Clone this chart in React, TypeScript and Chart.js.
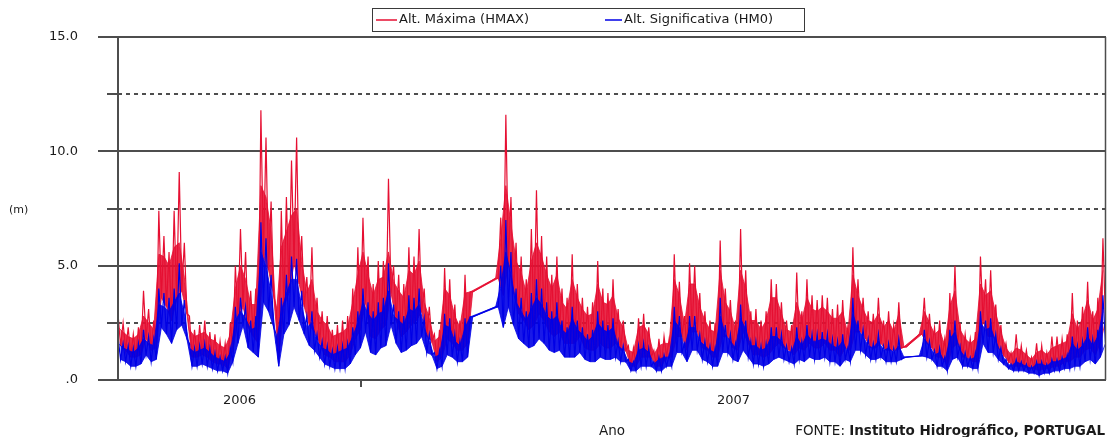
import React, { useEffect, useRef } from 'react';
import { Chart, registerables } from 'chart.js';

Chart.register(...registerables);

// Record: sampled every 2.5 days, day 0 = start of record (early Sept. 2006)
const STEP_DAYS = 2.5;
const RECORD_DAYS = 484;
const YEAR_BOUNDARIES = [0, 119, 484];
const YEAR_LABELS = ['2006', '2007'];
const Y_MAJOR = [0, 5, 10, 15];
const Y_MAJOR_LABELS = ['.0', '5.0', '10.0', '15.0'];
const Y_MINOR = [2.5, 7.5, 12.5];
const LEGEND_LABELS = ['Alt. Máxima (HMAX)', 'Alt. Significativa (HM0)'];

// Alt. Máxima (HMAX) per step (m): peak spikes, dense body top, lower swing
const hmaxHigh = [
  2.9, 2.5, 2.3, 2.0, 2.3, 3.9, 3.1, 2.6, 7.4, 6.3, 5.6, 7.4, 9.1, 6.0, 2.8, 2.2, 2.4, 2.6, 2.1, 2.0,
  1.7, 1.6, 2.5, 5.0, 6.6, 5.6, 3.9, 4.0, 11.8, 10.6, 7.8, 3.2, 7.4, 8.0, 9.6, 10.6, 6.3, 4.5, 5.8, 3.6,
  3.0, 2.8, 2.2, 2.4, 2.6, 2.8, 4.0, 5.8, 7.1,
  5.4, 4.2, 5.2, 5.2, 8.8, 5.0, 4.6, 4.2, 5.8, 5.4, 6.6, 4.0, 3.2, 2.0, 2.2, 4.9, 4.4, 3.3, 2.6, 4.6,
  3.85, null, null, null, null, 4.45, 7.1, 11.6, 8.0, 6.0, 5.4, 4.4, 6.6, 8.3, 6.3, 5.4, 4.6, 5.4, 4.0, 3.6,
  5.5, 4.2, 3.6, 3.2, 3.4, 5.2, 4.0, 3.8, 4.4,
  3.1, 2.6, 1.5, 1.4, 2.7, 2.9, 2.3, 1.3, 1.8, 1.9, 1.8, 5.5, 4.3, 2.8, 5.1, 5.0, 3.8, 3.0, 2.6, 2.5,
  6.1, 4.0, 3.5, 2.6, 6.6, 4.8, 3.0, 3.1, 2.6, 3.0, 4.4, 4.2, 3.4, 2.6, 2.4, 4.7, 3.0, 4.4, 3.7, 3.5,
  3.7, 3.6, 3.1, 3.3, 3.5, 2.3, 5.8, 4.4, 3.6,
  3.0, 2.9, 3.6, 2.6, 3.0, 2.4, 3.4, 1.45, null, null, 2.0, 3.6, 2.9, 2.3, 2.6, 1.8, 3.8, 5.0, 2.5, 2.0,
  1.8, 2.1, 5.4, 4.4, 4.8, 3.3, 2.4, 1.6, 1.2, 2.0, 1.5, 1.3, 1.0, 1.6, 1.5, 1.2, 1.9, 1.9, 1.8, 2.0,
  3.8, 2.6, 3.2, 4.3, 3.0, 3.6, 6.2,
];
const hmaxBody = [
  2.3, 2.1, 1.9, 1.8, 2.0, 2.8, 2.5, 2.2, 5.5, 5.4, 5.0, 5.8, 6.0, 4.5, 2.2, 1.9, 2.0, 2.1, 1.8, 1.7,
  1.5, 1.4, 2.0, 4.0, 5.0, 4.4, 3.3, 3.3, 8.5, 8.0, 6.5, 2.7, 5.8, 6.5, 7.2, 7.5, 5.2, 3.8, 4.4, 3.0,
  2.6, 2.4, 1.9, 2.0, 2.1, 2.3, 3.4, 4.6, 5.6,
  4.6, 3.7, 4.4, 4.5, 5.6, 4.3, 3.9, 3.6, 4.8, 4.6, 5.2, 3.4, 2.7, 1.7, 1.9, 4.0, 3.7, 2.8, 2.3, 3.8,
  3.85, null, null, null, null, 4.45, 6.2, 8.5, 6.8, 5.2, 4.7, 3.8, 5.2, 6.0, 5.4, 4.6, 4.0, 4.6, 3.4, 3.1,
  4.4, 3.6, 3.1, 2.8, 2.9, 4.2, 3.4, 3.3, 3.7,
  2.7, 2.3, 1.3, 1.2, 2.3, 2.4, 2.0, 1.1, 1.5, 1.6, 1.6, 4.4, 3.7, 2.4, 4.2, 4.2, 3.2, 2.6, 2.2, 2.1,
  4.8, 3.4, 3.0, 2.2, 4.8, 4.0, 2.6, 2.6, 2.2, 2.6, 3.6, 3.6, 2.9, 2.2, 2.1, 3.4, 2.6, 3.6, 3.1, 3.0,
  3.2, 3.0, 2.7, 2.7, 3.0, 2.0, 4.6, 3.7, 3.1,
  2.6, 2.5, 2.9, 2.3, 2.6, 2.1, 2.9, 1.45, null, null, 2.0, 3.0, 2.5, 2.0, 2.2, 1.5, 3.2, 3.9, 2.2, 1.8,
  1.6, 1.8, 4.2, 3.7, 3.9, 2.9, 2.1, 1.4, 1.1, 1.4, 1.3, 1.1, 0.9, 1.2, 1.3, 1.1, 1.4, 1.5, 1.6, 1.7,
  2.9, 2.2, 2.7, 3.5, 2.6, 3.1, 4.8,
];
const hmaxLow = [
  1.5, 1.3, 1.0, 1.0, 1.1, 1.8, 1.3, 1.4, 3.6, 3.2, 2.6, 3.5, 3.9, 2.9, 1.0, 1.0, 1.1, 1.0, 0.8, 0.7,
  0.7, 0.5, 1.3, 2.6, 3.2, 2.3, 1.9, 1.6, 5.4, 4.8, 3.7, 1.0, 3.2, 3.8, 5.1, 4.2, 3.2, 2.4, 2.1, 1.6,
  1.1, 1.0, 0.8, 0.8, 0.8, 1.1, 1.8, 2.2, 3.4,
  1.9, 1.8, 2.2, 2.4, 3.8, 2.6, 1.9, 2.1, 2.4, 2.6, 3.0, 1.9, 1.7, 0.8, 1.0, 1.8, 1.6, 1.3, 1.3, 1.6,
  3.85, null, null, null, null, 4.45, 3.7, 5.1, 3.8, 2.9, 2.6, 2.2, 2.4, 2.9, 2.6, 2.1, 1.9, 2.1, 1.6, 1.6,
  1.6, 1.9, 1.4, 1.3, 1.3, 1.6, 1.4, 1.4, 1.6,
  1.3, 1.3, 0.6, 0.6, 1.0, 1.0, 1.0, 0.6, 0.6, 1.0, 1.0, 1.9, 1.9, 1.3, 2.1, 2.1, 1.4, 1.3, 1.0, 1.0,
  1.9, 1.9, 1.4, 1.3, 2.1, 1.6, 1.1, 1.1, 1.0, 1.1, 1.4, 1.6, 1.4, 1.3, 1.1, 1.4, 1.3, 1.6, 1.4, 1.4,
  1.6, 1.3, 1.3, 1.0, 1.4, 1.3, 2.1, 2.1, 1.8,
  1.4, 1.4, 1.6, 1.3, 1.3, 1.3, 1.4, 1.45, null, null, 2.0, 1.6, 1.4, 1.0, 1.0, 0.6, 1.4, 1.6, 1.0, 1.0,
  0.8, 0.8, 2.6, 1.9, 1.9, 1.4, 1.1, 0.8, 0.6, 0.6, 0.6, 0.5, 0.5, 0.4, 0.5, 0.5, 0.6, 0.6, 0.8, 0.8,
  1.0, 1.0, 1.3, 1.4, 1.1, 1.6, 2.6,
];

// Alt. Significativa (HM0) per step (m): peak spikes, dense body top, lower swing
const hm0High = [
  1.9, 1.6, 1.5, 1.4, 1.6, 2.2, 1.9, 1.8, 4.0, 3.8, 3.6, 4.0, 5.1, 3.5, 1.6, 1.4, 1.5, 1.6, 1.4, 1.2,
  1.0, 1.0, 1.4, 3.2, 3.6, 3.2, 2.6, 2.8, 6.9, 6.2, 4.6, 2.0, 3.6, 4.6, 5.4, 5.3, 3.9, 2.8, 3.0, 2.0,
  1.7, 1.5, 1.3, 1.4, 1.5, 1.6, 2.3, 3.0, 4.0,
  3.4, 3.0, 3.4, 3.6, 5.1, 3.3, 3.0, 2.8, 3.7, 3.6, 4.0, 2.7, 2.0, 1.2, 1.3, 2.9, 2.7, 2.0, 1.7, 2.7,
  2.76, null, null, null, null, 3.2, 5.0, 7.0, 5.6, 4.0, 3.6, 3.0, 3.8, 4.4, 4.0, 3.4, 3.0, 3.4, 2.6, 2.3,
  3.2, 2.6, 2.3, 2.0, 2.2, 3.0, 2.6, 2.4, 2.7,
  1.7, 1.5, 0.9, 0.8, 1.5, 1.6, 1.4, 0.8, 1.0, 1.1, 1.1, 3.2, 2.8, 1.6, 2.8, 2.8, 2.0, 1.7, 1.5, 1.4,
  3.6, 2.4, 2.0, 1.6, 3.3, 2.6, 1.7, 1.7, 1.5, 1.6, 2.3, 2.3, 2.0, 1.5, 1.4, 2.3, 1.7, 2.4, 2.0, 2.0,
  2.1, 2.0, 1.8, 1.7, 2.0, 1.4, 3.6, 2.6, 2.2,
  1.8, 1.6, 2.0, 1.5, 1.6, 1.4, 1.8, 1.0, null, null, 1.05, 2.2, 1.7, 1.3, 1.4, 1.0, 2.2, 2.6, 1.5, 1.2,
  1.0, 1.2, 3.0, 2.6, 2.7, 2.0, 1.4, 0.9, 0.7, 0.9, 0.8, 0.7, 0.6, 0.8, 0.8, 0.7, 0.9, 0.9, 1.0, 1.1,
  1.9, 1.5, 1.7, 2.3, 1.8, 2.2, 3.7,
];
const hm0Body = [
  1.6, 1.4, 1.3, 1.2, 1.4, 1.8, 1.6, 1.5, 3.3, 3.2, 3.0, 3.4, 3.8, 2.9, 1.4, 1.2, 1.3, 1.4, 1.2, 1.0,
  0.9, 0.8, 1.2, 2.6, 3.0, 2.7, 2.2, 2.3, 5.6, 5.0, 3.8, 1.6, 3.0, 3.8, 4.4, 4.4, 3.2, 2.3, 2.5, 1.7,
  1.4, 1.3, 1.1, 1.2, 1.3, 1.4, 1.9, 2.5, 3.4,
  2.9, 2.6, 2.9, 3.0, 3.9, 2.8, 2.6, 2.4, 3.1, 3.0, 3.3, 2.3, 1.7, 1.0, 1.1, 2.4, 2.3, 1.7, 1.5, 2.3,
  2.76, null, null, null, null, 3.2, 4.1, 5.6, 4.6, 3.4, 3.0, 2.6, 3.1, 3.6, 3.3, 2.8, 2.6, 2.8, 2.2, 2.0,
  2.7, 2.2, 2.0, 1.7, 1.9, 2.5, 2.2, 2.1, 2.3,
  1.5, 1.3, 0.8, 0.7, 1.3, 1.4, 1.2, 0.7, 0.9, 1.0, 1.0, 2.6, 2.3, 1.4, 2.3, 2.3, 1.7, 1.5, 1.3, 1.2,
  2.8, 2.0, 1.7, 1.4, 2.7, 2.2, 1.5, 1.5, 1.3, 1.4, 1.9, 1.9, 1.7, 1.3, 1.2, 1.9, 1.5, 2.0, 1.7, 1.7,
  1.8, 1.7, 1.5, 1.4, 1.7, 1.2, 2.9, 2.2, 1.9,
  1.5, 1.4, 1.7, 1.3, 1.4, 1.2, 1.5, 1.0, null, null, 1.05, 1.8, 1.5, 1.1, 1.2, 0.8, 1.8, 2.1, 1.3, 1.0,
  0.9, 1.0, 2.5, 2.2, 2.3, 1.7, 1.2, 0.8, 0.6, 0.8, 0.7, 0.6, 0.5, 0.7, 0.7, 0.6, 0.8, 0.8, 0.9, 1.0,
  1.6, 1.3, 1.5, 1.9, 1.5, 1.9, 3.0,
];
const hm0Low = [
  0.9, 0.8, 0.6, 0.6, 0.7, 1.1, 0.8, 0.9, 2.3, 2.0, 1.6, 2.2, 2.4, 1.8, 0.6, 0.6, 0.7, 0.6, 0.5, 0.4,
  0.4, 0.3, 0.8, 1.6, 2.4, 1.4, 1.2, 1.0, 3.4, 3.0, 2.3, 0.6, 2.0, 2.4, 3.2, 2.6, 2.0, 1.5, 1.3, 1.0,
  0.7, 0.6, 0.5, 0.5, 0.5, 0.7, 1.1, 1.4, 2.1,
  1.2, 1.1, 1.4, 1.5, 2.4, 1.6, 1.2, 1.3, 1.5, 1.6, 1.9, 1.2, 1.1, 0.5, 0.6, 1.1, 1.0, 0.8, 0.8, 1.0,
  2.76, null, null, null, null, 3.2, 2.3, 3.2, 2.4, 1.8, 1.6, 1.4, 1.5, 1.8, 1.6, 1.3, 1.2, 1.3, 1.0, 1.0,
  1.0, 1.2, 0.9, 0.8, 0.8, 1.0, 0.9, 0.9, 1.0,
  0.8, 0.8, 0.4, 0.4, 0.6, 0.6, 0.6, 0.4, 0.4, 0.6, 0.6, 1.2, 1.2, 0.8, 1.3, 1.3, 0.9, 0.8, 0.6, 0.6,
  1.2, 1.2, 0.9, 0.8, 1.3, 1.0, 0.7, 0.7, 0.6, 0.7, 0.9, 1.0, 0.9, 0.8, 0.7, 0.9, 0.8, 1.0, 0.9, 0.9,
  1.0, 0.8, 0.8, 0.6, 0.9, 0.8, 1.3, 1.3, 1.1,
  0.9, 0.9, 1.0, 0.8, 0.8, 0.8, 0.9, 1.0, null, null, 1.05, 1.0, 0.9, 0.6, 0.6, 0.4, 0.9, 1.0, 0.6, 0.6,
  0.5, 0.5, 1.6, 1.2, 1.2, 0.9, 0.7, 0.5, 0.4, 0.4, 0.4, 0.3, 0.3, 0.2, 0.3, 0.3, 0.4, 0.4, 0.5, 0.5,
  0.6, 0.6, 0.8, 0.9, 0.7, 1.0, 1.6,
];

const RED = '#e60f32';
const RED_FILL = 'rgba(230, 15, 50, 0.88)';
const BLUE = '#0000e6';
const BLUE_FILL = 'rgba(0, 0, 230, 0.9)';
const GRID = '#4d4d4d';
const TEXT = '#1a1a1a';
const FONT = '"DejaVu Sans", "Liberation Sans", sans-serif';

type Pt = { x: number; y: number | null };

// upper values sit at the start of each step, lower swing half a step later
function upperPoints(vals: (number | null)[]): Pt[] {
  return vals.map((v, i) => ({ x: i * STEP_DAYS, y: v }));
}
function lowerPoints(vals: (number | null)[]): Pt[] {
  return vals.map((v, i) => ({ x: i * STEP_DAYS + STEP_DAYS / 2, y: v }));
}
function zigzag(high: (number | null)[], low: (number | null)[]): Pt[] {
  const pts: Pt[] = [];
  for (let i = 0; i < high.length; i++) {
    pts.push({ x: i * STEP_DAYS, y: high[i] });
    pts.push({ x: i * STEP_DAYS + STEP_DAYS / 2, y: low[i] });
  }
  return pts;
}

const decor = {
  id: 'decor',
  beforeDatasetsDraw(chart: any) {
    const { ctx, chartArea: a, scales } = chart;
    const y = scales.y;
    ctx.save();
    ctx.strokeStyle = GRID;
    Y_MINOR.forEach((v) => {
      const py = Math.round(y.getPixelForValue(v));
      ctx.lineWidth = 2;
      ctx.setLineDash([]);
      ctx.beginPath();
      ctx.moveTo(a.left - 11, py);
      ctx.lineTo(a.left, py);
      ctx.stroke();
      ctx.setLineDash([4, 4]);
      ctx.beginPath();
      ctx.moveTo(a.left, py);
      ctx.lineTo(a.right, py);
      ctx.stroke();
    });
    ctx.setLineDash([]);
    ctx.lineWidth = 2;
    Y_MAJOR.forEach((v) => {
      const py = Math.round(y.getPixelForValue(v));
      ctx.beginPath();
      ctx.moveTo(a.left - 20, py);
      ctx.lineTo(a.right, py);
      ctx.stroke();
    });
    ctx.restore();
  },
  afterDraw(chart: any) {
    const { ctx, chartArea: a, scales } = chart;
    const x = scales.x;
    const y = scales.y;
    ctx.save();
    ctx.strokeStyle = GRID;
    ctx.lineWidth = 2;
    ctx.beginPath();
    ctx.moveTo(a.left, a.top);
    ctx.lineTo(a.left, a.bottom);
    ctx.stroke();
    ctx.lineWidth = 1.5;
    ctx.beginPath();
    ctx.moveTo(a.right - 0.5, a.top);
    ctx.lineTo(a.right - 0.5, a.bottom);
    ctx.stroke();
    ctx.lineWidth = 2;
    YEAR_BOUNDARIES.slice(1, -1).forEach((d) => {
      const px = Math.round(x.getPixelForValue(d));
      ctx.beginPath();
      ctx.moveTo(px, a.bottom);
      ctx.lineTo(px, a.bottom + 7);
      ctx.stroke();
    });

    ctx.fillStyle = TEXT;
    ctx.font = `13px ${FONT}`;
    ctx.textBaseline = 'middle';
    ctx.textAlign = 'right';
    Y_MAJOR.forEach((v, i) => {
      ctx.fillText(Y_MAJOR_LABELS[i], a.left - 40, y.getPixelForValue(v));
    });
    ctx.textAlign = 'left';
    ctx.font = `11px ${FONT}`;
    ctx.fillText('(m)', 9, 210);
    ctx.font = `13px ${FONT}`;
    ctx.textAlign = 'center';
    YEAR_LABELS.forEach((lab, i) => {
      const mid = (YEAR_BOUNDARIES[i] + YEAR_BOUNDARIES[i + 1]) / 2;
      ctx.fillText(lab, x.getPixelForValue(mid), a.bottom + 21);
    });
    ctx.font = `13.5px ${FONT}`;
    ctx.fillText('Ano', (a.left + a.right) / 2, 431);
    ctx.textAlign = 'right';
    ctx.font = `bold 13.5px ${FONT}`;
    const src = 'Instituto Hidrográfico, PORTUGAL';
    ctx.fillText(src, 1105, 431);
    const w = ctx.measureText(src).width;
    ctx.font = `13.5px ${FONT}`;
    ctx.fillText('FONTE: ', 1105 - w, 431);

    ctx.lineWidth = 1;
    ctx.strokeStyle = '#3a3a3a';
    ctx.strokeRect(372.5, 8.5, 432, 23);
    const ly = 20;
    const items = [
      { color: RED, x0: 376, x1: 397, tx: 399 },
      { color: BLUE, x0: 605, x1: 622, tx: 624 },
    ];
    ctx.textAlign = 'left';
    ctx.font = `13px ${FONT}`;
    items.forEach((it, i) => {
      ctx.strokeStyle = it.color;
      ctx.lineWidth = 1.5;
      ctx.beginPath();
      ctx.moveTo(it.x0, ly);
      ctx.lineTo(it.x1, ly);
      ctx.stroke();
      ctx.fillStyle = TEXT;
      ctx.fillText(LEGEND_LABELS[i], it.tx, ly);
    });
    ctx.restore();
  },
};

const lineBase = { pointRadius: 0, tension: 0, spanGaps: true };

export default function App() {
  const canvasRef = useRef<HTMLCanvasElement | null>(null);

  useEffect(() => {
    const canvas = canvasRef.current;
    if (!canvas) return;
    const chart = new Chart(canvas, {
      type: 'line',
      data: {
        datasets: [
          { ...lineBase, label: 'hmax-body', data: upperPoints(hmaxBody) as any, borderColor: RED, borderWidth: 0.8, backgroundColor: RED_FILL, fill: '+1', order: 6 },
          { ...lineBase, label: 'hmax-low', data: lowerPoints(hmaxLow) as any, borderColor: RED, borderWidth: 0.8, fill: false, order: 5 },
          { ...lineBase, label: LEGEND_LABELS[0], data: zigzag(hmaxHigh, hmaxLow) as any, borderColor: RED, borderWidth: 1.2, fill: false, order: 4 },
          { ...lineBase, label: 'hm0-body', data: upperPoints(hm0Body) as any, borderColor: BLUE, borderWidth: 0.8, backgroundColor: BLUE_FILL, fill: '+1', order: 3 },
          { ...lineBase, label: 'hm0-low', data: lowerPoints(hm0Low) as any, borderColor: BLUE, borderWidth: 0.8, fill: false, order: 2 },
          { ...lineBase, label: LEGEND_LABELS[1], data: zigzag(hm0High, hm0Low) as any, borderColor: BLUE, borderWidth: 1.2, fill: false, order: 1 },
        ],
      },
      options: {
        animation: false,
        responsive: false,
        maintainAspectRatio: false,
        layout: { padding: { left: 118, right: 2, top: 37, bottom: 57 } },
        scales: {
          x: { type: 'linear', min: 0, max: RECORD_DAYS, display: false },
          y: { min: 0, max: 15, display: false },
        },
        plugins: { legend: { display: false }, tooltip: { enabled: false } },
      },
      plugins: [decor],
    });
    return () => chart.destroy();
  }, []);

  return (
    <div style={{ position: 'absolute', left: 0, top: 0, width: 1108, height: 437, background: '#fff' }}>
      <canvas ref={canvasRef} width={1108} height={437} style={{ display: 'block' }} />
    </div>
  );
}
